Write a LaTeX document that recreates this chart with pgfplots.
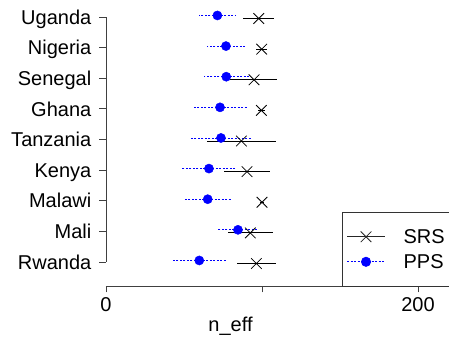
\documentclass[border=0pt]{standalone}
\usepackage{fontspec}
\setmainfont{Liberation Sans}
\usepackage{pgfplots}
\pgfplotsset{compat=1.18}
\begin{document}
\fontsize{20}{24}\selectfont
\begin{tikzpicture}
\begin{axis}[
  at={(0pt,0pt)}, anchor=south west,
  scale only axis, width=343.2pt, height=286pt,
  xmin=0, xmax=220, ymin=0.216, ymax=9.555,
  axis x line*=bottom, axis y line*=left,
  axis line style={draw=none},
  tick align=outside,
  major tick length=6.5pt,
  tick style={black!75, line width=0.8pt},
  xtick={0,100,200}, xticklabels={0,,200},
  ytick={1,2,3,4,5,6,7,8,9},
  yticklabels={Rwanda,Mali,Malawi,Kenya,Tanzania,Ghana,Senegal,Nigeria,Uganda},
  minor tick num=0,
  font=\fontsize{20}{24}\selectfont,
  yticklabel style={inner sep=0pt, anchor=base east, yshift=-7.2pt, xshift=-8pt},
  xticklabel style={inner sep=0pt, anchor=north, yshift=-4.5pt},
  xlabel={n\_eff},
  xlabel style={at={(axis description cs:0.3628,-0.1608)}, anchor=base},
  clip=false,
  legend style={at={(axis description cs:0.6877,0.2587)}, anchor=north west,
    draw=black!80, line width=0.8pt, fill=white,
    inner xsep=4.4pt, inner ysep=11.9pt, row sep=0pt, column sep=18.4pt,
    nodes={inner sep=0pt, minimum height=25pt, text depth=0pt, font=\fontsize{20}{24}\selectfont},
    cells={anchor=west}},
  legend image code/.code={\draw[#1, mark repeat=2, mark phase=2] plot coordinates {(0pt,0pt) (18.8pt,0pt) (37.6pt,0pt)};},
]
\addlegendimage{black!85, line width=0.8pt, mark=x, mark size=7.5pt, mark options={solid, line width=0.8pt}}
\addlegendentry{SRS}
\addlegendimage{blue, line width=0.8pt, dash pattern=on 2pt off 1.5pt, mark=*, mark size=4.6pt, mark options={solid, fill=blue}}
\addlegendentry{PPS}

\addplot[forget plot, only marks, black, mark=x, mark size=7.5pt, mark options={line width=0.8pt},
  error bars/.cd, x dir=both, x explicit, error mark=none,
  error bar style={black, line width=0.9pt}]
coordinates {
  (97.9,8.95) -= (9.9,0) += (9.6,0)
  (99.8,7.95) -= (3.8,0) += (3.6,0)
  (94.9,6.95) -= (15.4,0) += (14.9,0)
  (99.6,5.95) -= (2.1,0) += (2.1,0)
  (86.8,4.95) -= (21.9,0) += (22.0,0)
  (90.4,3.95) -= (14.8,0) += (15.0,0)
  (100.0,2.95) -= (1.5,0) += (1.5,0)
  (92.5,1.95) -= (14.1,0) += (14.3,0)
  (96.4,0.95) -= (12.2,0) += (12.4,0)
};
\addplot[forget plot, only marks, blue, mark=*, mark size=4.6pt, mark options={fill=blue},
  error bars/.cd, x dir=both, x explicit, error mark=none,
  error bar style={blue, line width=0.9pt, dash pattern=on 2pt off 1.5pt}]
coordinates {
  (71.4,9.05) -= (11.6,0) += (11.9,0)
  (76.9,8.05) -= (12.0,0) += (12.0,0)
  (77.1,7.05) -= (14.3,0) += (15.2,0)
  (73.1,6.05) -= (17.1,0) += (17.1,0)
  (73.7,5.05) -= (19.4,0) += (19.7,0)
  (66.0,4.05) -= (17.5,0) += (17.8,0)
  (65.2,3.05) -= (14.6,0) += (14.9,0)
  (84.6,2.05) -= (13.0,0) += (13.0,0)
  (59.8,1.05) -= (17.7,0) += (17.8,0)
};
\draw[black!75, line width=0.8pt] (axis cs:0,1) -- (axis cs:0,9);
\draw[black!75, line width=0.8pt] (axis cs:0,0.216) -- (axis cs:240,0.216);
\end{axis}
\pgfresetboundingbox
\useasboundingbox (-106pt,-53pt) rectangle (343pt,286pt);
\end{tikzpicture}
\end{document}
